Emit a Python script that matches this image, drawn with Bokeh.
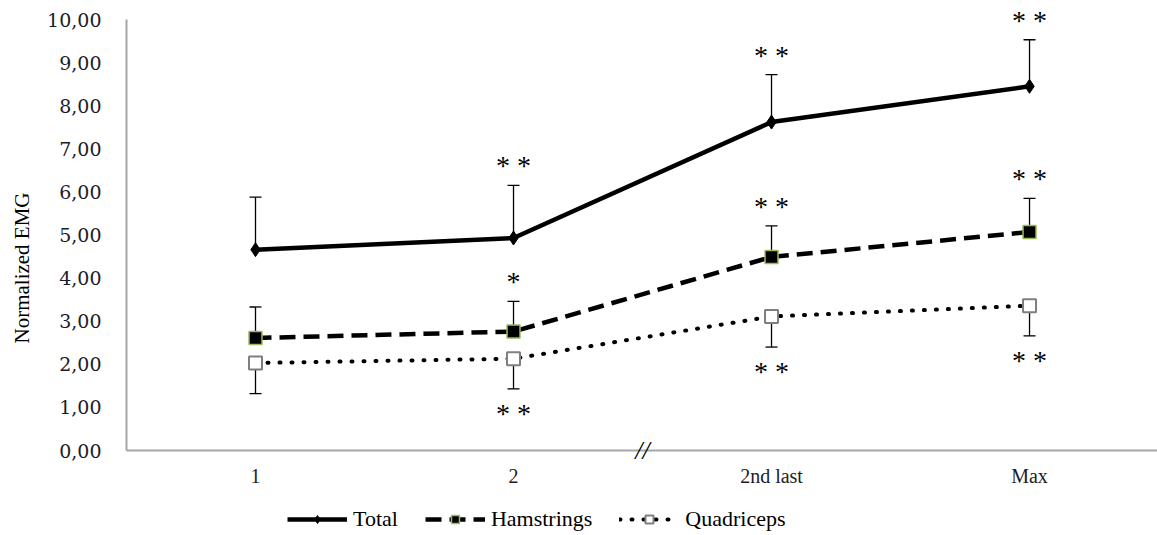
from bokeh.plotting import figure
from bokeh.models import (ColumnDataSource, Whisker, TeeHead, LabelSet, Label,
                          Legend, LegendItem, FixedTicker, Range1d)
from bokeh.embed import file_html
from bokeh.resources import INLINE

# ---- data ----
categories = ["1", "2", "2nd last", "Max"]
total_mean = [4.66, 4.93, 7.62, 8.45]
total_sd = [1.22, 1.22, 1.10, 1.08]
ham_mean = [2.61, 2.76, 4.49, 5.07]
ham_sd = [0.72, 0.70, 0.72, 0.78]
quad_mean = [2.03, 2.13, 3.11, 3.36]
quad_sd = [0.71, 0.70, 0.71, 0.70]
total_sig = ["", "**", "**", "**"]
ham_sig = ["", "*", "**", "**"]
quad_sig = ["", "**", "**", "**"]
y_ticks = [0, 1, 2, 3, 4, 5, 6, 7, 8, 9, 10]
y_tick_labels = ["0,00", "1,00", "2,00", "3,00", "4,00", "5,00",
                 "6,00", "7,00", "8,00", "9,00", "10,00"]

xs = list(range(len(categories)))
x_lo = xs[0] - 0.5          # left edge of the category axis
y_lo, y_hi = y_ticks[0], y_ticks[-1]

SERIF = "'Liberation Serif', 'Times New Roman', Times, serif"

x_range = Range1d(x_lo - 0.0155, len(xs) - 0.504)
y_range = Range1d(y_lo - 1.972, y_hi + 0.441)

p = figure(width=1157, height=535, output_backend="svg", toolbar_location=None,
           x_range=x_range, y_range=y_range,
           min_border_left=122, min_border_right=0, min_border_top=0,
           min_border_bottom=0)
p.outline_line_color = None
p.grid.visible = False
p.background_fill_color = "white"
p.border_fill_color = "white"
p.xaxis.visible = False

axis_grey = "#a6a6a6"
txt_col = "#1c1c28"

# axis lines
p.segment(x0=[x_lo, x_lo], y0=[y_lo, y_lo], x1=[x_range.end, x_lo], y1=[y_lo, y_hi],
          line_color=axis_grey, line_width=2)

# y axis
p.yaxis.ticker = FixedTicker(ticks=y_ticks)
p.yaxis.major_label_overrides = {t: l for t, l in zip(y_ticks, y_tick_labels)}
p.yaxis.axis_line_color = None
p.yaxis.major_tick_line_color = None
p.yaxis.minor_tick_line_color = None
p.yaxis.major_tick_out = 0
p.yaxis.major_tick_in = 0
p.yaxis.major_label_standoff = 21
p.yaxis.major_label_text_font = "DejaVu Serif"
p.yaxis.major_label_text_font_size = "19px"
p.yaxis.major_label_text_color = txt_col
p.yaxis.axis_label = "Normalized EMG"
p.yaxis.axis_label_text_font = SERIF
p.yaxis.axis_label_text_font_size = "21px"
p.yaxis.axis_label_text_font_style = "normal"
p.yaxis.axis_label_text_color = "black"
p.yaxis.axis_label_standoff = 10

# category labels of the x axis
cat_src = ColumnDataSource(dict(x=xs, y=[y_lo] * len(xs), t=categories))
p.add_layout(LabelSet(source=cat_src, x="x", y="y", text="t", y_offset=-25,
                      text_align="center", text_baseline="middle",
                      text_font="DejaVu Serif", text_font_size="20px",
                      text_color=txt_col))

# ---- error bars ----
def whisker(means, sds, up):
    if up:
        src = ColumnDataSource(dict(x=xs, lower=means,
                                    upper=[m + s for m, s in zip(means, sds)]))
        w = Whisker(source=src, base="x", lower="lower", upper="upper",
                    dimension="height", line_color="black", line_width=1.3,
                    upper_head=TeeHead(size=12, line_color="black", line_width=1.3),
                    lower_head=None)
    else:
        src = ColumnDataSource(dict(x=xs, upper=means,
                                    lower=[m - s for m, s in zip(means, sds)]))
        w = Whisker(source=src, base="x", lower="lower", upper="upper",
                    dimension="height", line_color="black", line_width=1.3,
                    lower_head=TeeHead(size=12, line_color="black", line_width=1.3),
                    upper_head=None)
    p.add_layout(w)

whisker(total_mean, total_sd, True)
whisker(ham_mean, ham_sd, True)
whisker(quad_mean, quad_sd, False)

# ---- lines & markers ----
q_line = p.line(xs, quad_mean, line_color="black", line_width=4,
                line_dash="1 11", line_cap="round")
q_mark = p.scatter(xs, quad_mean, marker="square", size=13, fill_color="white",
                   line_color="#7f7f7f", line_width=2)
h_line = p.line(xs, ham_mean, line_color="black", line_width=4.5, line_dash="16 8")
h_mark = p.scatter(xs, ham_mean, marker="square", size=13, fill_color="black",
                   line_color="#9bbb59", line_width=1.5)
t_line = p.line(xs, total_mean, line_color="black", line_width=4.5)
t_mark = p.scatter(xs, total_mean, marker="diamond", size=14, fill_color="black",
                   line_color="black")

# ---- significance stars ----
def stars(means, sds, sig, up):
    keep = [i for i, s in enumerate(sig) if s]
    ends = [means[i] + sds[i] if up else means[i] - sds[i] for i in keep]
    src = ColumnDataSource(dict(x=[xs[i] for i in keep], y=ends,
                                t=[" ".join(sig[i]) for i in keep]))
    ls = LabelSet(source=src, x="x", y="y", text="t",
                  y_offset=10 if up else -34,
                  text_align="center", text_baseline="alphabetic",
                  text_font=SERIF, text_font_size="28px",
                  text_color="black")
    p.add_layout(ls)

stars(total_mean, total_sd, total_sig, True)
stars(ham_mean, ham_sd, ham_sig, True)
stars(quad_mean, quad_sd, quad_sig, False)

# axis break mark between "2" and "2nd last"
p.add_layout(Label(x=(xs[1] + xs[2]) / 2, y=y_lo, text="//", text_align="center",
                   text_baseline="middle", text_font=SERIF,
                   text_font_size="26px", text_font_style="italic",
                   text_color="black"))

# ---- legend ----
legend = Legend(items=[LegendItem(label="Total", renderers=[t_line, t_mark]),
                       LegendItem(label="Hamstrings", renderers=[h_line, h_mark]),
                       LegendItem(label="Quadriceps", renderers=[q_line, q_mark])],
                orientation="horizontal", location=(165, 3),
                border_line_alpha=0, background_fill_alpha=0,
                padding=0, margin=0, spacing=27, glyph_width=60, glyph_height=20,
                label_standoff=6, label_text_font=SERIF,
                label_text_font_size="22px", label_text_color="black")
p.add_layout(legend, "center")

open("out.html", "w").write(file_html(p, INLINE))
